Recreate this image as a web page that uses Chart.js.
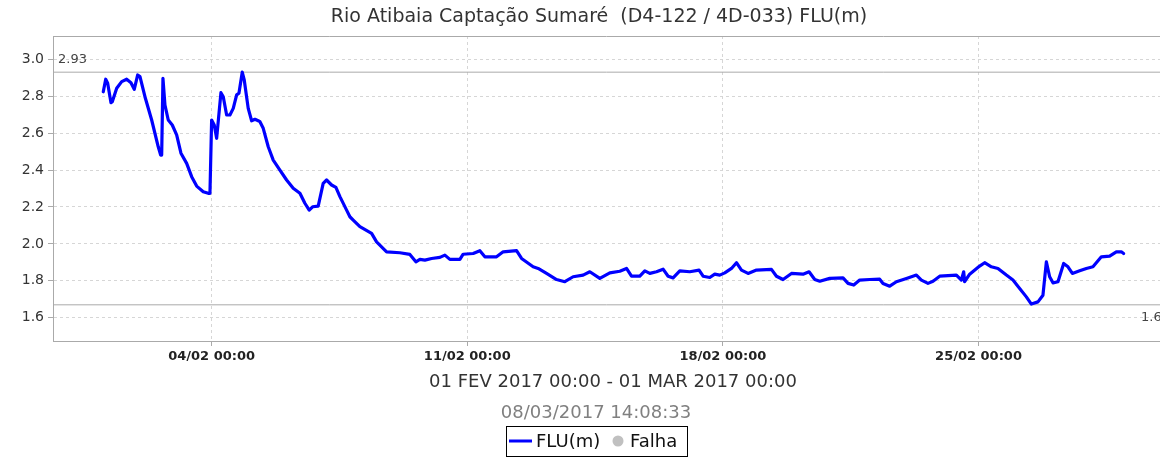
<!DOCTYPE html>
<html>
<head>
<meta charset="utf-8">
<script src="https://cdn.jsdelivr.net/npm/chart.js@4/dist/chart.umd.min.js"></script>
<style>
  body { margin: 0; background: #fff; }
</style>
</head>
<body>
<canvas id="fluChart" width="1160" height="458"></canvas>
<script>
// days since 01/02/2017 00:00
const days = [
  0.033, 0.099, 0.153, 0.244, 0.279, 0.400, 0.537, 0.673, 0.791, 0.881,
  0.975, 1.038, 1.174, 1.358, 1.538, 1.604, 1.632, 1.667, 1.722, 1.812,
  1.922, 2.042, 2.160, 2.316, 2.453, 2.590, 2.770, 2.907, 2.954, 3.000,
  3.071, 3.137, 3.255, 3.318, 3.411, 3.501, 3.592, 3.685, 3.748, 3.838,
  3.893, 4.002, 4.095, 4.186, 4.276, 4.323, 4.413, 4.550, 4.687, 4.870,
  5.053, 5.234, 5.418, 5.554, 5.672, 5.765, 5.918, 6.055, 6.148, 6.285,
  6.403, 6.513, 6.696, 6.786, 6.877, 7.060, 7.380, 7.517, 7.791, 8.155,
  8.429, 8.593, 8.703, 8.840, 9.023, 9.250, 9.387, 9.524, 9.798, 9.888,
  10.162, 10.345, 10.482, 10.802, 10.983, 11.350, 11.487, 11.804, 11.941, 12.171,
  12.445, 12.672, 12.899, 13.173, 13.356, 13.630, 13.904, 14.177, 14.361, 14.498,
  14.725, 14.862, 14.999, 15.182, 15.363, 15.500, 15.637, 15.820, 16.094, 16.348,
  16.458, 16.641, 16.778, 16.915, 17.052, 17.235, 17.372, 17.509, 17.690, 17.920,
  18.330, 18.467, 18.648, 18.878, 19.195, 19.360, 19.516, 19.653, 19.926, 20.290,
  20.427, 20.583, 20.747, 21.021, 21.294, 21.385, 21.568, 21.752, 22.026, 22.299,
  22.436, 22.617, 22.754, 22.937, 23.394, 23.531, 23.594, 23.621, 23.758, 24.031,
  24.168, 24.352, 24.533, 24.763, 24.944, 25.127, 25.310, 25.447, 25.628, 25.765,
  25.858, 25.948, 26.039, 26.176, 26.332, 26.450, 26.570, 26.770, 26.953, 27.134,
  27.364, 27.591, 27.774, 27.911, 27.974
];

// FLU(m)
const levels = [
  2.824, 2.892, 2.870, 2.765, 2.770, 2.843, 2.879, 2.892, 2.873, 2.837,
  2.915, 2.906, 2.797, 2.671, 2.526, 2.481, 2.481, 2.897, 2.752, 2.671,
  2.644, 2.590, 2.491, 2.436, 2.364, 2.313, 2.282, 2.274, 2.274, 2.671,
  2.644, 2.572, 2.819, 2.797, 2.698, 2.698, 2.734, 2.807, 2.816, 2.930,
  2.888, 2.734, 2.667, 2.675, 2.667, 2.662, 2.626, 2.526, 2.454, 2.400,
  2.346, 2.301, 2.274, 2.220, 2.183, 2.201, 2.205, 2.328, 2.346, 2.319,
  2.306, 2.256, 2.183, 2.147, 2.129, 2.093, 2.057, 2.011, 1.957, 1.952,
  1.943, 1.903, 1.916, 1.912, 1.921, 1.927, 1.939, 1.916, 1.916, 1.944,
  1.948, 1.963, 1.930, 1.930, 1.957, 1.963, 1.921, 1.876, 1.867, 1.840,
  1.807, 1.795, 1.822, 1.831, 1.849, 1.813, 1.843, 1.852, 1.867, 1.825,
  1.825, 1.854, 1.840, 1.849, 1.863, 1.825, 1.816, 1.854, 1.849, 1.858,
  1.825, 1.818, 1.836, 1.831, 1.843, 1.867, 1.898, 1.858, 1.840, 1.858,
  1.862, 1.825, 1.807, 1.840, 1.836, 1.849, 1.807, 1.798, 1.813, 1.816,
  1.786, 1.777, 1.804, 1.807, 1.809, 1.786, 1.771, 1.795, 1.813, 1.831,
  1.804, 1.786, 1.798, 1.825, 1.831, 1.804, 1.849, 1.795, 1.836, 1.880,
  1.898, 1.876, 1.867, 1.831, 1.804, 1.759, 1.713, 1.674, 1.686, 1.722,
  1.903, 1.822, 1.789, 1.795, 1.894, 1.876, 1.840, 1.854, 1.867, 1.876,
  1.930, 1.934, 1.957, 1.957, 1.948
];

const xTicks = [3, 10, 17, 24];
const xTickLabels = ["04/02 00:00", "11/02 00:00", "18/02 00:00", "25/02 00:00"];
const yTicks = [1.6, 1.8, 2.0, 2.2, 2.4, 2.6, 2.8, 3.0];
const markerValues = [2.93, 1.67]; // max / min lines

const xMin = -1.344, xMax = 28.97;
const yMin = 1.474, yMax = 3.126;

const titleText = "Rio Atibaia Captação Sumaré  (D4-122 / 4D-033) FLU(m)";
const periodText = "01 FEV 2017 00:00 - 01 MAR 2017 00:00";
const stampText = "08/03/2017 14:08:33";

const FONT = "'DejaVu Sans', sans-serif";

// Extra texts, max/min labels and the boxed legend
const decorPlugin = {
  id: 'decor',
  afterDraw(chart) {
    const ctx = chart.ctx;
    const area = chart.chartArea;
    const y = chart.scales.y;
    ctx.save();

    // top border of plot
    ctx.strokeStyle = '#aaaaaa';
    ctx.lineWidth = 1;
    ctx.beginPath();
    ctx.moveTo(area.left, area.top + 0.5);
    ctx.lineTo(area.right, area.top + 0.5);
    ctx.stroke();

    ctx.textBaseline = 'middle';
    ctx.fillStyle = '#333';
    ctx.textAlign = 'center';
    ctx.font = '19px ' + FONT;
    ctx.fillText(titleText, 599, 17);

    // max / min labels
    ctx.font = '13px ' + FONT;
    ctx.fillStyle = '#444';
    ctx.textAlign = 'left';
    ctx.fillText(markerValues[0].toFixed(2), area.left + 5, y.getPixelForValue(markerValues[0]) - 13);
    ctx.fillText(markerValues[1].toFixed(2), 1141, y.getPixelForValue(markerValues[1]) + 13);

    ctx.textAlign = 'center';
    ctx.font = '18px ' + FONT;
    ctx.fillStyle = '#333';
    ctx.fillText(periodText, 613, 382);
    ctx.fillStyle = '#808080';
    ctx.fillText(stampText, 596, 413);

    // legend
    ctx.strokeStyle = '#000';
    ctx.lineWidth = 1;
    ctx.strokeRect(506.5, 426.5, 181, 30);
    ctx.strokeStyle = '#0000ff';
    ctx.lineWidth = 3;
    ctx.beginPath();
    ctx.moveTo(509, 441);
    ctx.lineTo(532, 441);
    ctx.stroke();
    ctx.textAlign = 'left';
    ctx.fillStyle = '#111';
    ctx.fillText('FLU(m)', 536, 442);
    ctx.fillStyle = '#c0c0c0';
    ctx.beginPath();
    ctx.arc(618, 441, 5.5, 0, Math.PI * 2);
    ctx.fill();
    ctx.fillStyle = '#111';
    ctx.fillText('Falha', 630, 442);

    ctx.restore();
  }
};

document.addEventListener("DOMContentLoaded", () => {
  const points = days.map((d, i) => ({ x: d, y: levels[i] }));
  const markerSets = markerValues.map(v => ({
    data: [{ x: xMin, y: v }, { x: xMax, y: v }],
    borderColor: '#aaaaaa',
    borderWidth: 1,
    pointRadius: 0
  }));

  new Chart(document.getElementById('fluChart').getContext('2d'), {
    type: 'line',
    data: {
      datasets: [{
        label: 'FLU(m)',
        data: points,
        borderColor: '#0000ff',
        borderWidth: 3.2,
        borderJoinStyle: 'round',
        borderCapStyle: 'round',
        pointRadius: 0,
        tension: 0
      }, ...markerSets]
    },
    options: {
      responsive: false,
      animation: false,
      devicePixelRatio: 1,
      layout: { padding: { top: 36, left: 0, right: 0, bottom: 97 } },
      plugins: {
        legend: { display: false },
        title: { display: false },
        tooltip: { enabled: false }
      },
      scales: {
        x: {
          type: 'linear',
          min: xMin,
          max: xMax,
          afterBuildTicks: s => { s.ticks = xTicks.map(v => ({ value: v })); },
          afterFit: s => { s.height = 20; },
          ticks: {
            maxRotation: 0,
            padding: 3,
            color: '#222',
            font: { family: FONT, size: 13, weight: 'bold' },
            callback: v => xTickLabels[xTicks.indexOf(v)]
          },
          grid: { color: '#d6d6d6', tickColor: '#aaaaaa', tickLength: 5 },
          border: { color: '#aaaaaa', width: 1, dash: [3, 3] }
        },
        y: {
          min: yMin,
          max: yMax,
          afterBuildTicks: s => { s.ticks = yTicks.map(v => ({ value: v })); },
          afterFit: s => { s.width = 53; },
          ticks: {
            padding: 4,
            color: '#333',
            font: { family: FONT, size: 14 },
            callback: v => v.toFixed(1)
          },
          grid: { color: '#d6d6d6', tickColor: '#aaaaaa', tickLength: 5 },
          border: { color: '#aaaaaa', width: 1, dash: [3, 3] }
        }
      }
    },
    plugins: [decorPlugin]
  });
});
</script>
</body>
</html>
